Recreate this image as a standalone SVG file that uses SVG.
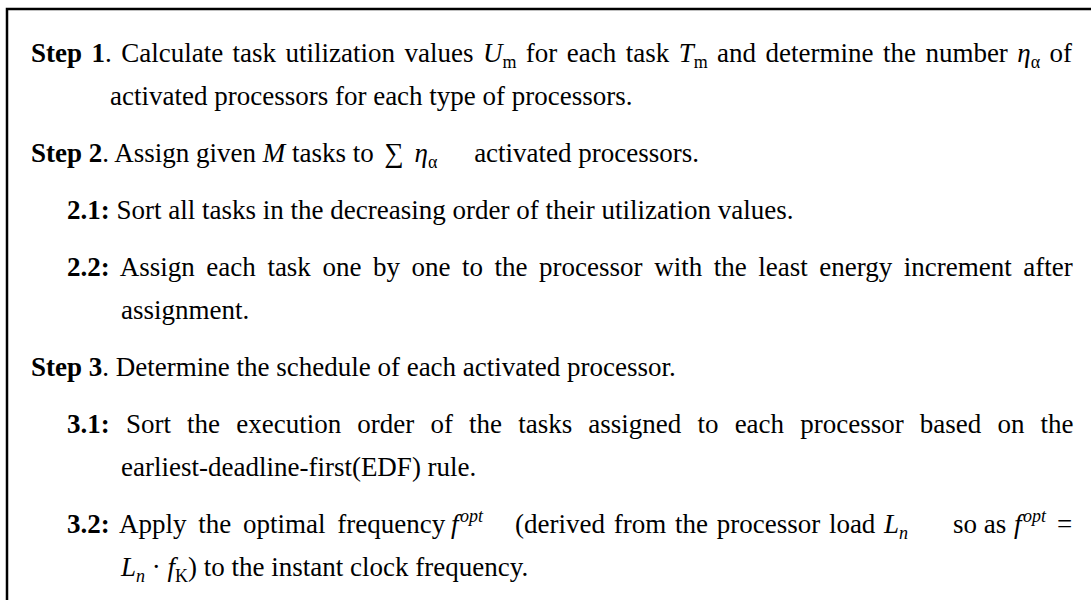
<svg xmlns="http://www.w3.org/2000/svg" width="1091" height="600" viewBox="0 0 1091 600">
  <style>
    .t { font-family: "Liberation Serif", "Times New Roman", serif; font-size: 27px; fill: #000; }
    .b { font-weight: bold; }
    .i { font-style: italic; }
    .sub { font-size: 18px; }
    .frame { fill: none; stroke: #000; stroke-width: 2.5; }
  </style>
  <rect width="1091" height="600" fill="#fff"/>
  <!-- frame: left and top edges, open to the right and bottom -->
  <path class="frame" d="M 7 600 V 9 H 1091"/>

  <g id="step1">
    <text class="t" x="31" y="62" word-spacing="2.7"><tspan class="b">Step 1</tspan>. Calculate task utilization values <tspan class="i">U</tspan><tspan class="sub" dy="6">m</tspan><tspan dy="-6"> for each task </tspan><tspan class="i">T</tspan><tspan class="sub" dy="6">m</tspan><tspan dy="-6"> and determine the number </tspan><tspan class="i">η</tspan><tspan class="sub" dy="6">α</tspan><tspan dy="-6"> of</tspan></text>
    <text class="t" x="110" y="105">activated processors for each type of processors.</text>
  </g>

  <g id="step2">
    <text class="t" x="31" y="162"><tspan class="b">Step 2</tspan>. Assign given <tspan class="i">M</tspan> tasks to <tspan dx="4">∑</tspan> <tspan class="i" dx="4">η</tspan><tspan class="sub" dy="6">α</tspan><tspan dy="-6" dx="30"> activated processors.</tspan></text>
  </g>

  <g id="step2-1">
    <text class="t" x="67" y="219"><tspan class="b">2.1:</tspan> Sort all tasks in the decreasing order of their utilization values.</text>
  </g>

  <g id="step2-2">
    <text class="t" x="67" y="276" word-spacing="4.8"><tspan class="b">2.2:</tspan> Assign each task one by one to the processor with the least energy increment after</text>
    <text class="t" x="121" y="319">assignment.</text>
  </g>

  <g id="step3">
    <text class="t" x="31" y="376"><tspan class="b">Step 3</tspan>. Determine the schedule of each activated processor.</text>
  </g>

  <g id="step3-1">
    <text class="t" x="67" y="433" word-spacing="9.4"><tspan class="b">3.1:</tspan> Sort the execution order of the tasks assigned to each processor based on the</text>
    <text class="t" x="121" y="476">earliest-deadline-first(EDF) rule.</text>
  </g>

  <g id="step3-2">
    <text class="t" y="533"><tspan class="b" x="67">3.2:</tspan><tspan x="119" word-spacing="5">Apply the optimal frequency</tspan><tspan class="i" x="451">f</tspan><tspan class="i sub" x="460" dy="-11">opt</tspan><tspan x="515" dy="11" word-spacing="2">(derived from the processor load</tspan><tspan class="i" x="884">L</tspan><tspan class="i sub" dy="6">n</tspan><tspan x="953" dy="-6">so as</tspan><tspan class="i" x="1014">f</tspan><tspan class="i sub" x="1023" dy="-11">opt</tspan><tspan x="1057" dy="11">=</tspan></text>
    <text class="t" y="576"><tspan class="i" x="121">L</tspan><tspan class="i sub" dy="6">n</tspan><tspan dy="-6"> · </tspan><tspan class="i">f</tspan><tspan class="sub" dy="6">K</tspan><tspan dy="-6">) to the instant clock frequency.</tspan></text>
  </g>
</svg>
